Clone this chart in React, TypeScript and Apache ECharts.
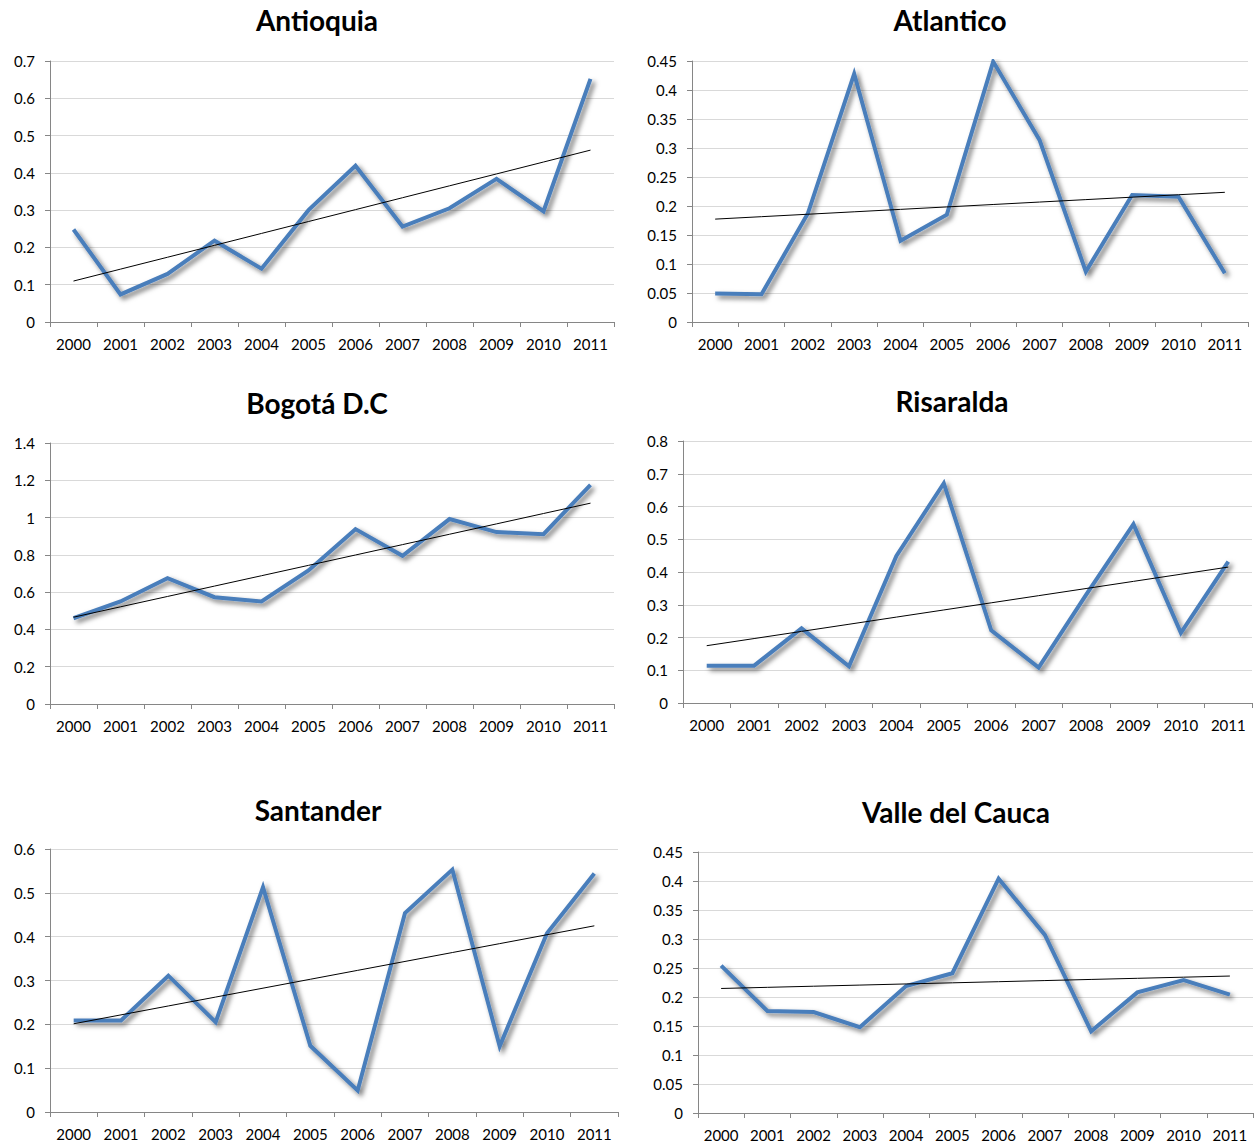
import React, { useEffect, useRef } from "react";
import * as echarts from "echarts";

const years = ["2000", "2001", "2002", "2003", "2004", "2005", "2006", "2007", "2008", "2009", "2010", "2011"];

const antioquia = [0.248, 0.074, 0.129, 0.218, 0.143, 0.3, 0.419, 0.256, 0.305, 0.384, 0.297, 0.652];
const atlantico = [0.049, 0.048, 0.187, 0.428, 0.14, 0.185, 0.449, 0.314, 0.087, 0.219, 0.216, 0.084];
const bogota = [0.46, 0.55, 0.675, 0.573, 0.55, 0.716, 0.938, 0.795, 0.992, 0.922, 0.911, 1.176];
const risaralda = [0.114, 0.114, 0.228, 0.112, 0.449, 0.671, 0.222, 0.108, 0.33, 0.546, 0.214, 0.432];
const santander = [0.209, 0.209, 0.311, 0.205, 0.513, 0.151, 0.049, 0.454, 0.553, 0.15, 0.408, 0.544];
const valle = [0.254, 0.176, 0.174, 0.148, 0.219, 0.241, 0.404, 0.307, 0.141, 0.208, 0.229, 0.204];

const titles = ["Antioquia", "Atlantico", "Bogotá D.C", "Risaralda", "Santander", "Valle del Cauca"];
const seriesData = [antioquia, atlantico, bogota, risaralda, santander, valle];
const yMax = [0.7, 0.45, 1.4, 0.8, 0.6, 0.45];
const yStep = [0.1, 0.05, 0.2, 0.1, 0.1, 0.05];

// layout (pixels)
const grids = [
  { left: 50, top: 61, width: 564, height: 261 },
  { left: 692, top: 61, width: 556, height: 261 },
  { left: 50, top: 443, width: 564, height: 261 },
  { left: 683, top: 441, width: 569, height: 262 },
  { left: 50, top: 849, width: 568, height: 263 },
  { left: 698, top: 852, width: 555, height: 261 },
];
const titlePos = [
  [317, 20],
  [950, 20],
  [317, 403],
  [952, 401],
  [318, 810],
  [956, 812],
];

function linearFit(vals: number[]): number[] {
  const n = vals.length;
  const mx = (n - 1) / 2;
  const my = vals.reduce((a, b) => a + b, 0) / n;
  let sxy = 0;
  let sxx = 0;
  vals.forEach((v, i) => {
    sxy += (i - mx) * (v - my);
    sxx += (i - mx) * (i - mx);
  });
  const b = sxy / sxx;
  const a = my - b * mx;
  return vals.map((_, i) => a + b * i);
}

const FONT = "Lato";

export default function App() {
  const ref = useRef<HTMLDivElement>(null);
  useEffect(() => {
    document.body.style.margin = "0";
    if (!ref.current) return;
    const chart = echarts.init(ref.current, undefined, { renderer: "svg" });
    const option: any = {
      animation: false,
      backgroundColor: "#ffffff",
      title: titles.map((t, i) => ({
        text: t,
        left: titlePos[i][0],
        top: titlePos[i][1],
        padding: 0,
        textAlign: "center",
        textVerticalAlign: "middle",
        textStyle: { fontFamily: FONT, fontWeight: "bold", fontSize: 28, color: "#000" },
      })),
      grid: grids.map((g) => ({ ...g, containLabel: false })),
      xAxis: grids.map((_, i) => ({
        type: "category",
        gridIndex: i,
        data: years,
        boundaryGap: true,
        axisLine: { show: true, lineStyle: { color: "#868686", width: 1 } },
        axisTick: { show: true, length: 5, inside: false, lineStyle: { color: "#868686" }, interval: 0 },
        axisLabel: { interval: 0, margin: 14, color: "#000", fontFamily: FONT, fontSize: 15 },
        splitLine: { show: false },
      })),
      yAxis: grids.map((_, i) => ({
        type: "value",
        gridIndex: i,
        min: 0,
        max: yMax[i],
        interval: yStep[i],
        axisLine: { show: true, lineStyle: { color: "#868686", width: 1 } },
        axisTick: { show: true, length: 5, inside: false, lineStyle: { color: "#868686" } },
        axisLabel: { margin: 15, color: "#000", fontFamily: FONT, fontSize: 15 },
        splitLine: { show: true, lineStyle: { color: "#d9d9d9", width: 1 } },
      })),
      series: seriesData.flatMap((vals, i) => [
        {
          type: "line",
          xAxisIndex: i,
          yAxisIndex: i,
          data: vals,
          showSymbol: false,
          symbol: "none",
          silent: true,
          lineStyle: {
            color: "#4a7ebb",
            width: 4,
            join: "miter",
            shadowColor: "rgba(0,0,0,0.55)",
            shadowBlur: 5,
            shadowOffsetX: 3,
            shadowOffsetY: 3,
          },
          z: 2,
        },
        {
          type: "line",
          xAxisIndex: i,
          yAxisIndex: i,
          data: linearFit(vals),
          showSymbol: false,
          symbol: "none",
          silent: true,
          lineStyle: { color: "#000", width: 1 },
          z: 3,
        },
      ]),
    };
    chart.setOption(option);
    return () => chart.dispose();
  }, []);
  return <div ref={ref} style={{ width: 1259, height: 1146 }} />;
}
